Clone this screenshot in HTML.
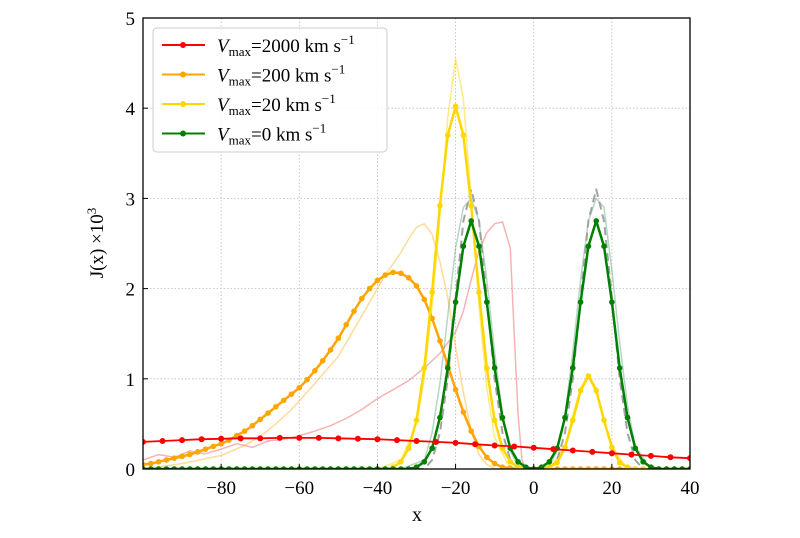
<!DOCTYPE html>
<html><head><meta charset="utf-8"><style>
body{margin:0;background:#fff;width:800px;height:533px;overflow:hidden}
text{font-family:"Liberation Serif",serif}
</style></head><body>
<svg id="chart" width="800" height="533" xmlns="http://www.w3.org/2000/svg">
<g id="grid"></g>
<g id="series"></g>
<g id="axes"></g>
<text x="417" y="521" font-size="20" text-anchor="middle">x</text>
<text transform="translate(103,243) rotate(-90)" font-size="19" text-anchor="middle">J(x) ×10<tspan dy="-7" font-size="13">3</tspan></text>
<g id="legend"></g>
</svg>
<script>
const xTicks=[-80,-60,-40,-20,0,20,40];
const yTicks=[0,1,2,3,4,5];
const redX=[-100,-95,-90,-85,-80,-75,-70,-65,-60,-55,-50,-45,-40,-35,-30,-25,-20,-15,-10,-5,0,5,10,15,20,25,30,35,40];
const redY=[.30,.31,.32,.33,.335,.34,.34,.345,.345,.345,.34,.335,.33,.32,.31,.30,.29,.275,.26,.25,.235,.22,.205,.19,.175,.16,.145,.13,.12];
const gridX=[-100,-98,-96,-94,-92,-90,-88,-86,-84,-82,-80,-78,-76,-74,-72,-70,-68,-66,-64,-62,-60,-58,-56,-54,-52,-50,-48,-46,-44,-42,-40,-38,-36,-34,-32,-30,-28,-26,-24,-22,-20,-18,-16,-14,-12,-10,-8,-6,-4,-2,0,2,4,6,8,10,12,14,16,18,20,22,24,26,28,30,32,34,36,38,40];
const orangeY=[.05,.06,.08,.10,.12,.14,.16,.19,.22,.25,.28,.32,.37,.42,.48,.55,.62,.69,.76,.83,.90,.99,1.09,1.20,1.32,1.45,1.60,1.75,1.89,2.00,2.09,2.15,2.18,2.17,2.12,2.03,1.88,1.67,1.42,1.15,.88,.63,.42,.25,.13,.06,.02,.01,0,0,0,0,0,0,0,0,0,0,0,0,0,0,0,0,0,0,0,0,0,0,0];
const yellowY=[0,0,0,0,0,0,0,0,0,0,0,0,0,0,0,0,0,0,0,0,0,0,0,0,0,0,0,0,0,0,0,0,.02,.08,.23,.54,1.12,1.96,2.92,3.70,4.02,3.70,2.92,1.96,1.12,.54,.23,.08,.02,0,0,0,.02,.07,.24,.54,.87,1.03,.87,.54,.24,.07,.02,0,0,0,0,0,0,0,0];
const greenY=[0,0,0,0,0,0,0,0,0,0,0,0,0,0,0,0,0,0,0,0,0,0,0,0,0,0,0,0,0,0,0,0,0,0,0,.02,.08,.23,.57,1.12,1.85,2.47,2.75,2.47,1.85,1.12,.57,.23,.08,.02,0,.02,.08,.23,.57,1.12,1.85,2.47,2.75,2.47,1.85,1.12,.57,.23,.08,.02,0,0,0,0,0];
const fRedX=[-100,-96,-92,-88,-84,-80,-76,-72,-68,-64,-60,-56,-52,-48,-44,-40,-36,-32,-28,-24,-20,-18,-16,-14,-12,-10,-8,-6,-5,-4,-3,-2,40];
const fRedY=[.10,.16,.13,.20,.17,.22,.28,.24,.31,.33,.37,.42,.48,.56,.66,.78,.88,.98,1.12,1.28,1.52,1.75,2.10,2.42,2.62,2.72,2.74,2.45,1.5,.6,.1,0,0];
const fOrangeX=[-100,-90,-80,-74,-70,-66,-62,-58,-54,-50,-46,-42,-38,-34,-32,-30,-28,-26,-24,-22,-20,-18,-16,-14,-12,-10,40];
const fOrangeY=[0,.06,.15,.26,.36,.50,.66,.85,1.05,1.25,1.55,1.85,2.15,2.40,2.55,2.68,2.72,2.60,2.30,1.90,1.35,.85,.42,.16,.05,0,0];
const fYellowX=[-40,-34,-30,-28,-26,-24,-22,-20,-18,-16,-14,-12,-10,-6,4,8,10,12,14,16,18,20,24,40];
const fYellowY=[0,.1,.5,1.0,1.8,2.8,3.9,4.55,4.1,3.0,1.8,.9,.35,0,0,.25,.6,.9,1.05,.9,.55,.25,0,0];
const fGreenX=[-34,-28,-26,-24,-22,-20,-18,-16,-14,-12,-10,-8,-6,-4,0,4,6,8,10,12,14,16,18,20,22,24,26,30];
const fGreenY=[0,.1,.4,.95,1.7,2.45,2.9,3.0,2.75,2.1,1.3,.6,.2,.03,0,.03,.2,.6,1.3,2.1,2.75,3.0,2.9,2.2,1.4,.7,.25,0];
const dashX=[-100,-28,-26,-24,-22,-20,-18,-16,-14,-12,-10,-8,-6,-4,4,6,8,10,12,14,16,18,20,22,24,26,28,40];
const dashY=[0,0,.1,.4,1.0,1.9,2.75,3.1,2.75,1.9,1.0,.4,.1,0,0,.1,.4,1.0,1.9,2.75,3.1,2.75,1.9,1.0,.4,.1,0,0];

const L=143,R=690,T=18,B=469;
const sx=v=>L+(v+100)/140*(R-L);
const sy=v=>B-v/5*(B-T);
const NS="http://www.w3.org/2000/svg";
function mk(tag,attrs,parent){const e=document.createElementNS(NS,tag);for(const k in attrs)e.setAttribute(k,attrs[k]);parent.appendChild(e);return e;}
const grid=document.getElementById('grid'),axes=document.getElementById('axes'),series=document.getElementById('series'),legend=document.getElementById('legend');
xTicks.forEach(t=>{
 const g=mk('line',{x1:sx(t),x2:sx(t),y1:T,y2:B,stroke:'#bbb','stroke-width':0.8,'stroke-dasharray':'1.5,2'},grid);
 
 
 const tk=mk('line',{x1:sx(t),x2:sx(t),y1:B,y2:B-5,stroke:'#000','stroke-width':1},axes);
 
 
 const lb=mk('text',{x:sx(t),y:B+25,'font-size':19,'text-anchor':'middle'},axes);
 lb.textContent=(t<0?'\u2212'+(-t):t);
 
 
});
yTicks.forEach(t=>{
 const g=mk('line',{x1:L,x2:R,y1:sy(t),y2:sy(t),stroke:'#bbb','stroke-width':0.8,'stroke-dasharray':'1.5,2'},grid);
 
 
 const tk=mk('line',{x1:L,x2:L+5,y1:sy(t),y2:sy(t),stroke:'#000','stroke-width':1},axes);
 
 
 const lb=mk('text',{x:L-8,y:sy(t)+7,'font-size':19,'text-anchor':'end'},axes);
 lb.textContent=t;
 
 
});
const fr=mk('rect',{x:L,y:T,width:R-L,height:B-T,fill:'none',stroke:'#000','stroke-width':1.3},axes);


const clip=mk('clipPath',{id:'pc'},document.getElementById('chart'));
mk('rect',{x:L,y:T,width:R-L,height:B-T},clip);
series.setAttribute('clip-path','url(#pc)');
function line(xs,ys,color,w,op,dash,name,mr){
 const d=xs.map((x,i)=>(i?'L':'M')+sx(x).toFixed(1)+','+sy(ys[i]).toFixed(1)).join('');
 const p=mk('path',{d:d,fill:'none',stroke:color,'stroke-width':w,'stroke-opacity':op,'stroke-linejoin':'round'},series);
 if(dash)p.setAttribute('stroke-dasharray',dash);
 
 
 if(mr){xs.forEach((x,i)=>{
  const c=mk('circle',{cx:sx(x),cy:sy(ys[i]),r:mr,fill:color},series);
  
  
 });}
}
line(fRedX,fRedY,'#f08080',1.5,0.6,null,'faint-red-line',0);
line(fOrangeX,fOrangeY,'#ffa500',1.5,0.4,null,'faint-orange-line',0);
line(fYellowX,fYellowY,'#ffd700',1.5,0.5,null,'faint-yellow-line',0);
line(fGreenX,fGreenY,'#2e8b57',1.5,0.35,null,'faint-green-line',0);
line(dashX,dashY,'#999',2,0.9,'8,5','reference-dashed-line',0);
line(gridX,orangeY,'#ffa500',2.5,1,null,'orange-line',2.8);
line(gridX,yellowY,'#ffd700',2.5,1,null,'yellow-line',2.8);
line(gridX,greenY,'#008000',2.5,1,null,'green-line',2.8);
line(redX,redY,'#ff0000',1.8,1,null,'red-line',3);
const lg=mk('rect',{x:153,y:28,width:234,height:124,rx:4,fill:'#fff','fill-opacity':0.85,stroke:'#ccc'},legend);


[['#ff0000','2000'],['#ffa500','200'],['#ffd700','20'],['#008000','0']].forEach((e,i)=>{
 const y=45+i*29.5;
 const g=mk('g',{},legend);
 
 
 mk('line',{x1:162,x2:205,y1:y,y2:y,stroke:e[0],'stroke-width':2},g);
 mk('circle',{cx:183,cy:y,r:3,fill:e[0]},g);
 const t=mk('text',{x:217,y:y+7,'font-size':19},g);
 t.innerHTML='<tspan font-style="italic">V</tspan><tspan font-size="13" dy="4">max</tspan><tspan dy="-4">='+e[1]+' km s</tspan><tspan font-size="13" dy="-8">\u22121</tspan>';
});
</script>
</body></html>
